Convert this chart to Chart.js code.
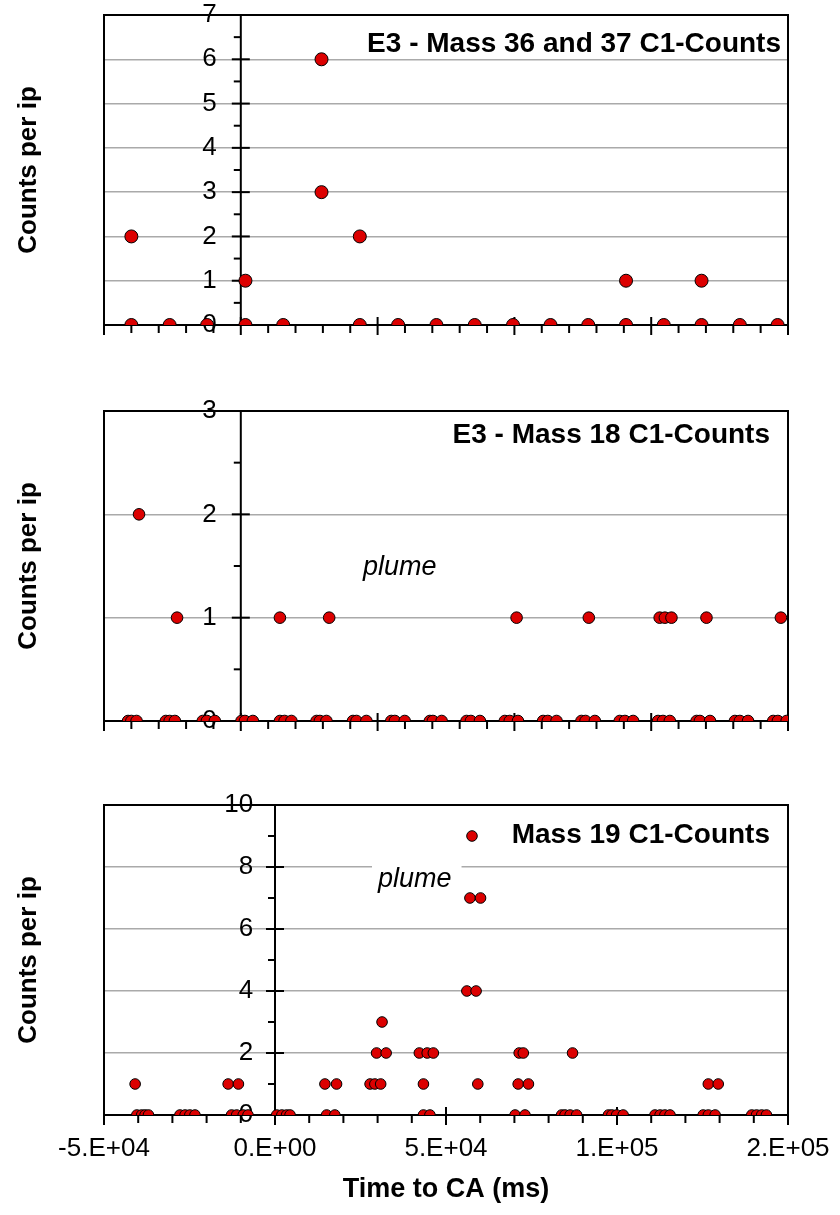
<!DOCTYPE html>
<html>
<head>
<meta charset="utf-8">
<title>C1 counts vs time to CA</title>
<script src="https://cdn.jsdelivr.net/npm/chart.js@4.4.1/dist/chart.umd.min.js"></script>
<style>
  body { margin: 0; background: #fff; }
  #wrap { position: relative; width: 840px; height: 1215px; }
  canvas { position: absolute; left: 0; }
</style>
</head>
<body>
<div id="wrap">
  <canvas id="c36" width="840" height="345" style="top:0"></canvas>
  <canvas id="c18" width="840" height="360" style="top:380px"></canvas>
  <canvas id="c19" width="840" height="445" style="top:770px"></canvas>
</div>
<script>
// E3 - mass 36 and 37, time to CA (ms) / counts per ip
const m36Time = [-40000, -40000, -26000, -12300, 1700, 1700, 15500, 29500, 29500, 43500, 43500, 57500,
  71500, 85500, 99500, 113200, 127000, 140800, 140800, 154600, 168400, 168400, 182400, 196200];
const m36Counts = [2, 0, 0, 0, 1, 0, 0, 6, 3, 2, 0, 0,
  0, 0, 0, 0, 0, 1, 0, 0, 1, 0, 0, 0];

// E3 - mass 18
const m18Time = [-37200, -23300, 14300, 32300, 100800, 127200, 153100, 155000, 157400, 170200, 197400,
  -41200, -40000, -38100, -27400, -26000, -24100, -13900, -12400, -9500,
  250, 1500, 4400, 14300, 16000, 18500, 27700, 28900, 31300,
  41000, 42300, 45900, 55000, 56300, 59900, 69100, 70200, 73400,
  82500, 84100, 87400, 96500, 98300, 101300, 110500, 112200, 115400,
  124500, 126000, 129400, 138500, 140400, 143400, 152500, 154300, 156800,
  166600, 167800, 171500, 180600, 182400, 185400, 194600, 196300, 199500];
const m18Counts = [2, 1, 1, 1, 1, 1, 1, 1, 1, 1, 1,
  0, 0, 0, 0, 0, 0, 0, 0, 0,
  0, 0, 0, 0, 0, 0, 0, 0, 0,
  0, 0, 0, 0, 0, 0, 0, 0, 0,
  0, 0, 0, 0, 0, 0, 0, 0, 0,
  0, 0, 0, 0, 0, 0, 0, 0, 0,
  0, 0, 0, 0, 0, 0, 0, 0, 0];

// mass 19
const m19Time = [-40900, -13700, -10700, 14600, 18000, 27800, 29200, 30900, 29700, 32500, 31300,
  42200, 44500, 46300, 43400, 57600, 57000, 60100, 56100, 58800, 59300,
  71400, 72600, 71100, 74100, 87000, 126700, 129600,
  -40400, -39000, -38000, -37000, -27800, -26300, -24900, -23400,
  -12700, -11200, -9300, -7900, 500, 2000, 3400, 4400, 15100, 17500,
  43400, 45300, 70200, 73100, 83800, 84800, 86300, 88200,
  97500, 98500, 99900, 101800, 111100, 112600, 114000, 115500,
  125200, 126700, 128700, 139400, 140800, 142300, 143700];
const m19Counts = [1, 1, 1, 1, 1, 1, 1, 1, 2, 2, 3,
  2, 2, 2, 1, 9, 7, 7, 4, 4, 1,
  2, 2, 1, 1, 2, 1, 1,
  0, 0, 0, 0, 0, 0, 0, 0,
  0, 0, 0, 0, 0, 0, 0, 0, 0, 0,
  0, 0, 0, 0, 0, 0, 0, 0,
  0, 0, 0, 0, 0, 0, 0, 0,
  0, 0, 0, 0, 0, 0, 0];

const xTickLabels = ["-5.E+04", "0.E+00", "5.E+04", "1.E+05", "2.E+05"];
const xTitle = "Time to CA (ms)";
const yTitle = "Counts per ip";

const RED = "#dc0000";
const FONT = "'Liberation Sans', Arial, sans-serif";
Chart.defaults.font.family = FONT;
Chart.defaults.color = "#000";

function toPoints(xs, ys) {
  return xs.map((x, i) => ({ x: x, y: ys[i] }));
}

function line(ctx, x1, y1, x2, y2) {
  ctx.beginPath();
  ctx.moveTo(x1, y1);
  ctx.lineTo(x2, y2);
  ctx.stroke();
}

// frame, axis through x = 0 and the tick marks
const framePlugin = {
  id: "frame",
  beforeDatasetsDraw(chart, args, opts) {
    const { ctx, chartArea: a, scales: { x, y } } = chart;
    const x0 = x.getPixelForValue(0);
    ctx.save();
    ctx.strokeStyle = "#000";
    ctx.lineWidth = 2;
    ctx.strokeRect(a.left, a.top, a.right - a.left, a.bottom - a.top);
    line(ctx, x0, a.top, x0, a.bottom);

    for (let v = y.min; v <= y.max + 1e-9; v += opts.yMinor) {
      const py = y.getPixelForValue(v);
      const major = Math.abs(v / opts.yMajor - Math.round(v / opts.yMajor)) < 1e-6;
      if (major) line(ctx, x0 - 9, py, x0 + 9, py);
      else line(ctx, x0 - 7, py, x0, py);
    }
    for (let v = x.min; v <= x.max + 1; v += opts.xMinor) {
      const px = x.getPixelForValue(v);
      const major = Math.abs(v / opts.xMajor - Math.round(v / opts.xMajor)) < 1e-6;
      if (major) line(ctx, px, a.bottom - 8, px, a.bottom + 10);
      else line(ctx, px, a.bottom, px, a.bottom + 8);
    }
    ctx.restore();
  }
};

// panel titles, "plume" notes and the y title
const textPlugin = {
  id: "panelText",
  afterDraw(chart, args, opts) {
    const { ctx, chartArea: a } = chart;
    ctx.save();
    (opts.items || []).forEach(t => {
      ctx.font = t.font;
      ctx.textAlign = t.align;
      ctx.textBaseline = "alphabetic";
      const px = t.align === "right" ? a.right - t.dx : a.left + t.dx;
      const py = a.top + t.dy;
      if (t.bg) {
        const w = ctx.measureText(t.text).width;
        ctx.fillStyle = "#fff";
        ctx.fillRect(px - 6, py - 27, w + 16, 36);
      }
      ctx.fillStyle = "#000";
      ctx.fillText(t.text, px, py);
    });
    ctx.translate(29, (a.top + a.bottom) / 2);
    ctx.rotate(-Math.PI / 2);
    ctx.font = "bold 26px " + FONT;
    ctx.textAlign = "center";
    ctx.textBaseline = "middle";
    ctx.fillStyle = "#000";
    ctx.fillText(yTitle, 0, 0);
    ctx.restore();
  }
};

function makeChart(id, xs, ys, o) {
  return new Chart(document.getElementById(id), {
    type: "scatter",
    data: {
      datasets: [{
        data: toPoints(xs, ys),
        backgroundColor: RED,
        borderColor: "#000",
        borderWidth: 1,
        pointRadius: o.radius,
        pointHoverRadius: o.radius
      }]
    },
    options: {
      responsive: false,
      animation: false,
      events: [],
      layout: { padding: { left: 104, right: 52, top: o.top, bottom: 0 } },
      plugins: {
        legend: { display: false },
        tooltip: { enabled: false },
        frame: { yMinor: o.yMajor / 2, yMajor: o.yMajor, xMinor: 10000, xMajor: 50000 },
        panelText: { items: o.texts }
      },
      scales: {
        x: {
          type: "linear",
          min: -50000,
          max: o.xMax,
          afterFit: s => {
            s.height = o.axisH;
            s.paddingLeft = 0;
            s.paddingRight = 0;
          },
          grid: { display: false, drawTicks: false },
          border: { display: false },
          ticks: {
            display: o.showX,
            stepSize: 50000,
            padding: 18,
            maxRotation: 0,
            font: { size: 26 },
            color: "#000",
            callback: (v, i) => xTickLabels[i]
          },
          title: {
            display: o.showX,
            text: xTitle,
            font: { size: 27, weight: "bold" },
            color: "#000",
            padding: { top: 0, bottom: 9 }
          }
        },
        y: {
          type: "linear",
          // labels end at the anchor, so anchor a little left of x = 0
          position: { x: -o.labelShift },
          min: 0,
          max: o.yMax,
          afterFit: s => {
            s.paddingTop = 0;
            s.paddingBottom = 0;
          },
          grid: { color: "#aaaaaa", lineWidth: 1.5, drawTicks: false },
          border: { display: false },
          ticks: { stepSize: o.yMajor, font: { size: 26 }, color: "#000" }
        }
      }
    },
    plugins: [framePlugin, textPlugin]
  });
}

makeChart("c36", m36Time, m36Counts, {
  top: 15, axisH: 20, xMax: 200000, yMax: 7, yMajor: 1, radius: 6.5, showX: false, labelShift: 8800,
  texts: [
    { text: "E3 - Mass 36 and 37 C1-Counts", font: "bold 28px " + FONT, align: "right", dx: 7, dy: 37 }
  ]
});

makeChart("c18", m18Time, m18Counts, {
  top: 31, axisH: 19, xMax: 200000, yMax: 3, yMajor: 1, radius: 5.8, showX: false, labelShift: 8800,
  texts: [
    { text: "E3 - Mass 18 C1-Counts", font: "bold 28px " + FONT, align: "right", dx: 18, dy: 32 },
    { text: "plume", font: "italic 27px " + FONT, align: "left", dx: 259, dy: 164 }
  ]
});

makeChart("c19", m19Time, m19Counts, {
  top: 35, axisH: 100, xMax: 150000, yMax: 10, yMajor: 2, radius: 5.3, showX: true, labelShift: 6400,
  texts: [
    { text: "Mass 19 C1-Counts", font: "bold 28px " + FONT, align: "right", dx: 18, dy: 38 },
    { text: "plume", font: "italic 27px " + FONT, align: "left", dx: 274, dy: 82, bg: true }
  ]
});
</script>
</body>
</html>
